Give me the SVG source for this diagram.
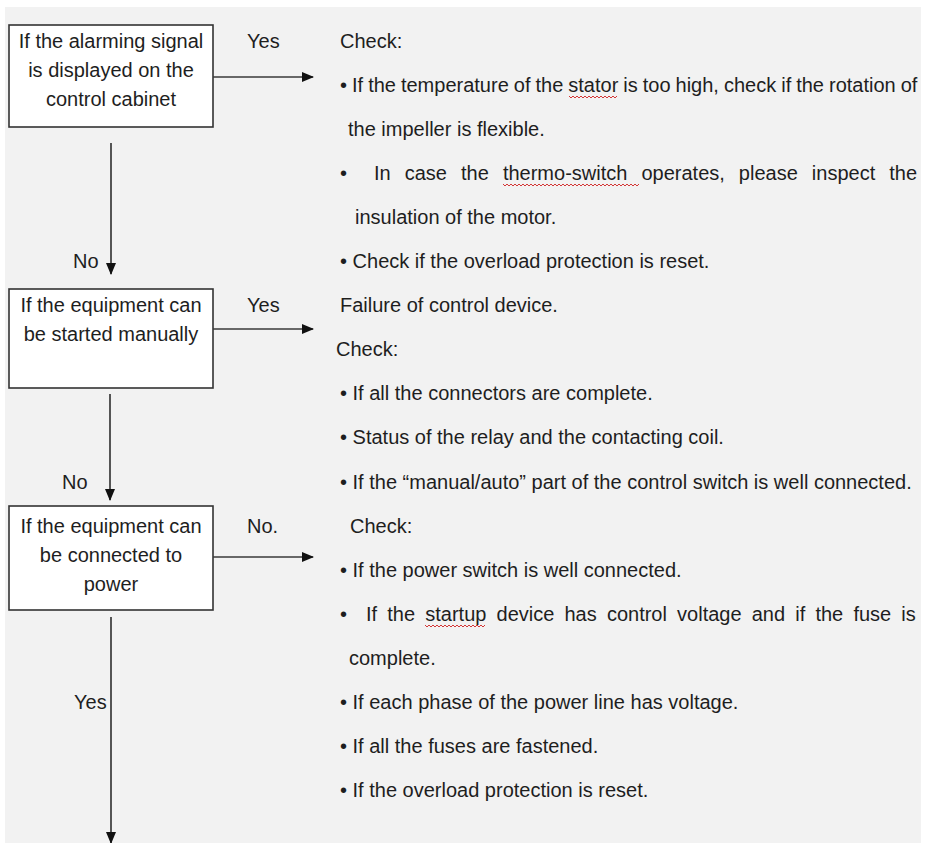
<svg xmlns="http://www.w3.org/2000/svg" width="927" height="843" viewBox="0 0 927 843">
<defs>
<style>
text{font-family:"Liberation Sans",Arial,sans-serif;font-size:20px;fill:#1e1e1e}
.bt{text-anchor:middle}
.box{fill:#ffffff;stroke:#333333;stroke-width:1.6}
.conn{stroke:#3a3a3a;stroke-width:1.7;fill:none}
.sq{stroke:#d02020;stroke-width:0.9;fill:none}
</style>
<marker id="ah" markerUnits="userSpaceOnUse" markerWidth="12" markerHeight="10" refX="11" refY="5" orient="auto">
<path d="M0,0 L12,5 L0,10 z" fill="#111111"/>
</marker>
</defs>
<rect x="0" y="0" width="927" height="843" fill="#ffffff"/>
<rect x="5" y="7" width="916" height="836" fill="#f2f2f2"/>

<g id="node-alarm">
<rect class="box" x="9" y="25" width="204" height="102"/>
<text class="bt" x="111" y="47.5">If the alarming signal</text>
<text class="bt" x="111" y="76.5">is displayed on the</text>
<text class="bt" x="111" y="105.5">control cabinet</text>
</g>
<g id="node-manual">
<rect class="box" x="9" y="289" width="204" height="99"/>
<text class="bt" x="111" y="312">If the equipment can</text>
<text class="bt" x="111" y="341">be started manually</text>
</g>
<g id="node-power">
<rect class="box" x="9" y="506" width="204" height="104"/>
<text class="bt" x="111" y="532.5">If the equipment can</text>
<text class="bt" x="111" y="561.5">be connected to</text>
<text class="bt" x="111" y="590.5">power</text>
</g>

<g id="connectors">
<line class="conn" x1="213" y1="77" x2="313" y2="77" marker-end="url(#ah)"/>
<line class="conn" x1="213" y1="329" x2="313" y2="329" marker-end="url(#ah)"/>
<line class="conn" x1="213" y1="557" x2="313" y2="557" marker-end="url(#ah)"/>
<line class="conn" x1="111" y1="143" x2="111" y2="274" marker-end="url(#ah)"/>
<line class="conn" x1="110" y1="394" x2="110" y2="500" marker-end="url(#ah)"/>
<line class="conn" x1="111" y1="617" x2="111" y2="843" marker-end="url(#ah)"/>
<text x="247" y="47.5">Yes</text>
<text x="247" y="312">Yes</text>
<text x="247" y="532.5">No.</text>
<text x="73" y="268">No</text>
<text x="62" y="488.5">No</text>
<text x="74" y="709">Yes</text>
</g>

<g id="node-alarm-checks">
<text x="340" y="47.5">Check:</text>
<text x="340" y="91.6" word-spacing="-0.55">• If the temperature of the stator is too high, check if the rotation of</text>
<text x="348" y="135.7">the impeller is flexible.</text>
<text x="340" y="179.8">•</text>
<text x="374" y="179.8" word-spacing="8.5">In case the thermo-switch operates, please inspect the</text>
<text x="355" y="223.9">insulation of the motor.</text>
<text x="340" y="268">• Check if the overload protection is reset.</text>
<path class="sq" d="M569,96 l2,2 l2,-2 l2,2 l2,-2 l2,2 l2,-2 l2,2 l2,-2 l2,2 l2,-2 l2,2 l2,-2 l2,2 l2,-2 l2,2 l2,-2 l2,2 l2,-2 l2,2 l2,-2 l2,2 l2,-2 l2,2 l2,-2"/>
<path class="sq" d="M503,184 l2,2 l2,-2 l2,2 l2,-2 l2,2 l2,-2 l2,2 l2,-2 l2,2 l2,-2 l2,2 l2,-2 l2,2 l2,-2 l2,2 l2,-2 l2,2 l2,-2 l2,2 l2,-2 l2,2 l2,-2 l2,2 l2,-2 l2,2 l2,-2 l2,2 l2,-2 l2,2 l2,-2 l2,2 l2,-2 l2,2 l2,-2 l2,2 l2,-2 l2,2 l2,-2 l2,2 l2,-2 l2,2 l2,-2 l2,2 l2,-2 l2,2 l2,-2 l2,2 l2,-2 l2,2 l2,-2 l2,2 l2,-2 l2,2 l2,-2 l2,2 l2,-2 l2,2 l2,-2 l2,2 l2,-2 l2,2 l2,-2 l2,2 l2,-2 l2,2 l2,-2 l2,2 l2,-2"/>
</g>

<g id="node-manual-checks">
<text x="340" y="312.1">Failure of control device.</text>
<text x="336" y="356.2">Check:</text>
<text x="340" y="400.3">• If all the connectors are complete.</text>
<text x="340" y="444.4">• Status of the relay and the contacting coil.</text>
<text x="340" y="488.5">• If the “manual/auto” part of the control switch is well connected.</text>
</g>

<g id="node-power-checks">
<text x="350" y="532.6">Check:</text>
<text x="340" y="576.7">• If the power switch is well connected.</text>
<text x="340" y="620.8">•</text>
<text x="366" y="620.8" word-spacing="4.6">If the startup device has control voltage and if the fuse is</text>
<text x="349" y="664.9">complete.</text>
<text x="340" y="709">• If each phase of the power line has voltage.</text>
<text x="340" y="753.1">• If all the fuses are fastened.</text>
<text x="340" y="797.2">• If the overload protection is reset.</text>
<path class="sq" d="M425,625 l2,2 l2,-2 l2,2 l2,-2 l2,2 l2,-2 l2,2 l2,-2 l2,2 l2,-2 l2,2 l2,-2 l2,2 l2,-2 l2,2 l2,-2 l2,2 l2,-2 l2,2 l2,-2 l2,2 l2,-2 l2,2 l2,-2 l2,2 l2,-2 l2,2 l2,-2 l2,2 l2,-2"/>
</g>
</svg>
